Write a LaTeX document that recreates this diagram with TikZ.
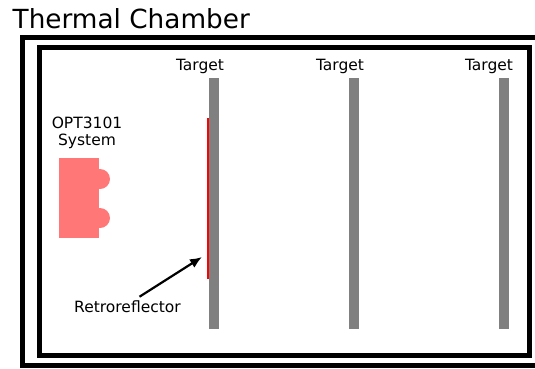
\documentclass[tikz,border=0pt]{standalone}
\usepackage{fontspec}
\setmainfont{DejaVu Sans}
\usetikzlibrary{arrows.meta}

\definecolor{sensorred}{HTML}{FF7777}
\tikzset{
    wall/.style={draw=black, line width=5pt},
    target/.style={fill=gray, draw=none},
    lbl/.style={font=\fontsize{15.5}{17}\selectfont, inner sep=0pt, align=center}
}

\begin{document}
\begin{tikzpicture}[x=1pt, y=-1pt]
        \useasboundingbox (0,0) rectangle (535,368);
        \clip (0,0) rectangle (535,368);
        % chamber walls
        \draw[wall] (22.5,37) rectangle (540,365.5);
        \draw[wall] (39.5,47) rectangle (529.5,355.5);
        \node[anchor=base west, inner sep=0pt, font=\fontsize{26.3}{30}\selectfont] (title) at (12.5,28.5) {Thermal Chamber};
        % targets
        \fill[target] (209,78) rectangle (219,329);
        \fill[target] (349,78) rectangle (359,329);
        \fill[target] (499,78) rectangle (509,329);
        \node[lbl, anchor=base] (t1) at (200,70) {Target};
        \node[lbl, anchor=base] (t2) at (340,70) {Target};
        \node[lbl, anchor=base] (t3) at (489,70) {Target};
        % retroreflector
        \draw[red, line width=2pt] (208,118) -- (208,279);
        \coordinate (refl) at (202,257);
        % sensor
        \fill[sensorred] (59,158) rectangle (99,238);
        \fill[sensorred] (100,179) circle (10);
        \fill[sensorred] (100,218) circle (10);
        \node[lbl] (sys) at (87,132.6) {OPT3101\\System};
        \node[lbl, anchor=base] (retro) at (127.5,312.7) {Retroreflector};
        \draw[-{Latex[length=12pt,width=10pt]}, line width=2.2pt] ([xshift=12pt,yshift=4pt]retro.north) -- (refl);
    \end{tikzpicture}
\end{document}
